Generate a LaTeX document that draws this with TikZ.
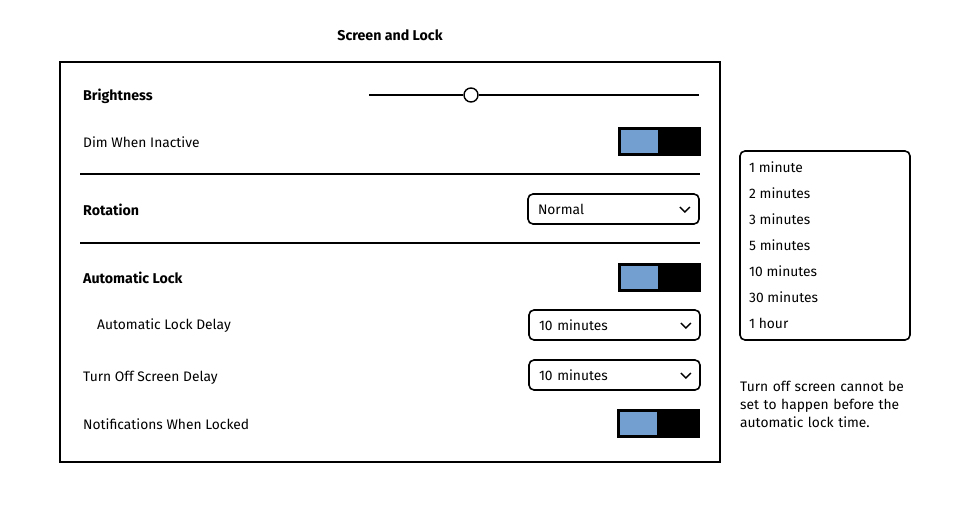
\documentclass[tikz,border=0pt]{standalone}
\usepackage{fontspec}
\setmainfont{Fira Sans}
\usepackage{tikz}

\begin{document}
\begin{tikzpicture}[x=1pt, y=-1pt,
  every node/.style={font=\fontsize{13.8}{16}\selectfont},
  label/.style={anchor=west, inner sep=0pt},
  head/.style={label, font=\fontsize{14.2}{16}\selectfont\bfseries},
  toggle/.style={draw, fill=black, line width=1pt, minimum width=82pt, minimum height=28pt, inner sep=0pt},
  knob/.style={draw, fill=switchblue, line width=0.5pt, minimum width=38pt, minimum height=24pt, inner sep=0pt, anchor=west},
  combo/.style={draw, line width=1.6pt, rounded corners=5pt, minimum width=171pt, minimum height=30pt, inner sep=0pt, text width=151pt, align=left},
  rule/.style={line width=1.6pt}]
\definecolor{switchblue}{HTML}{729FCF}
\useasboundingbox (0,0) rectangle (962,522);
% title and frame
\node[font=\fontsize{14.2}{16}\selectfont\bfseries] (title) at (390,35) {Screen and Lock};
\draw[line width=1.6pt] (60,62) rectangle (720,462);
% brightness
\node[head] (bright) at (83,96) {Brightness};
\coordinate (s1) at (369,95);
\coordinate (s2) at (699,95);
\node[draw, circle, fill=white, line width=1.4pt, minimum size=14pt, inner sep=0pt] (thumb) at (471,95) {};
\draw[line width=1.4pt] (s1) -- (thumb) -- (s2);
\node[label] (dim) at (83,142) {Dim When Inactive};
\node[toggle] (t1) at (659,141) {};
\node[knob] at ([xshift=2pt]t1.west) {};
\coordinate (r1a) at (80,174);
\coordinate (r1b) at (700,174);
\draw[rule] (r1a) -- (r1b);
% rotation
\node[head] (rot) at (83,210) {Rotation};
\node[combo] (c1) at (613.5,209) {Normal};
\draw[line width=1.4pt] ([xshift=-20pt,yshift=2pt]c1.east) -- ([xshift=-15pt,yshift=-3pt]c1.east) -- ([xshift=-10pt,yshift=2pt]c1.east);
\coordinate (r2a) at (80,243);
\coordinate (r2b) at (700,243);
\draw[rule] (r2a) -- (r2b);
% lock
\node[head] (lock) at (83,278) {Automatic Lock};
\node[toggle] (t2) at (659.5,277) {};
\node[knob] at ([xshift=2pt]t2.west) {};
\node[label] (delay) at (97,326) {Automatic Lock Delay};
\node[combo] (c2) at (614.5,325) {10 minutes};
\draw[line width=1.4pt] ([xshift=-20pt,yshift=2pt]c2.east) -- ([xshift=-15pt,yshift=-3pt]c2.east) -- ([xshift=-10pt,yshift=2pt]c2.east);
\node[label] (off) at (83,378) {Turn Off Screen Delay};
\node[combo] (c3) at (614.5,375) {10 minutes};
\draw[line width=1.4pt] ([xshift=-20pt,yshift=2pt]c3.east) -- ([xshift=-15pt,yshift=-3pt]c3.east) -- ([xshift=-10pt,yshift=2pt]c3.east);
\node[label] (notif) at (83,424) {Notifications When Locked};
\node[toggle] (t3) at (658.5,423) {};
\node[knob] at ([xshift=2pt]t3.west) {};
% list of delays
\draw[line width=1.6pt, rounded corners=5pt] (740,151) rectangle (910,340);
\foreach \t [count=\i] in {1 minute, 2 minutes, 3 minutes, 5 minutes, 10 minutes, 30 minutes, 1 hour}
  \node[label] (item\i) at (749,141+26*\i) {\t};
% note
\node[label, anchor=north west, text width=168pt, align=left, font=\fontsize{13.8}{18}\selectfont] (note) at (740,381) {Turn off screen cannot be set to happen before the automatic lock time.};
\end{tikzpicture}
\end{document}
